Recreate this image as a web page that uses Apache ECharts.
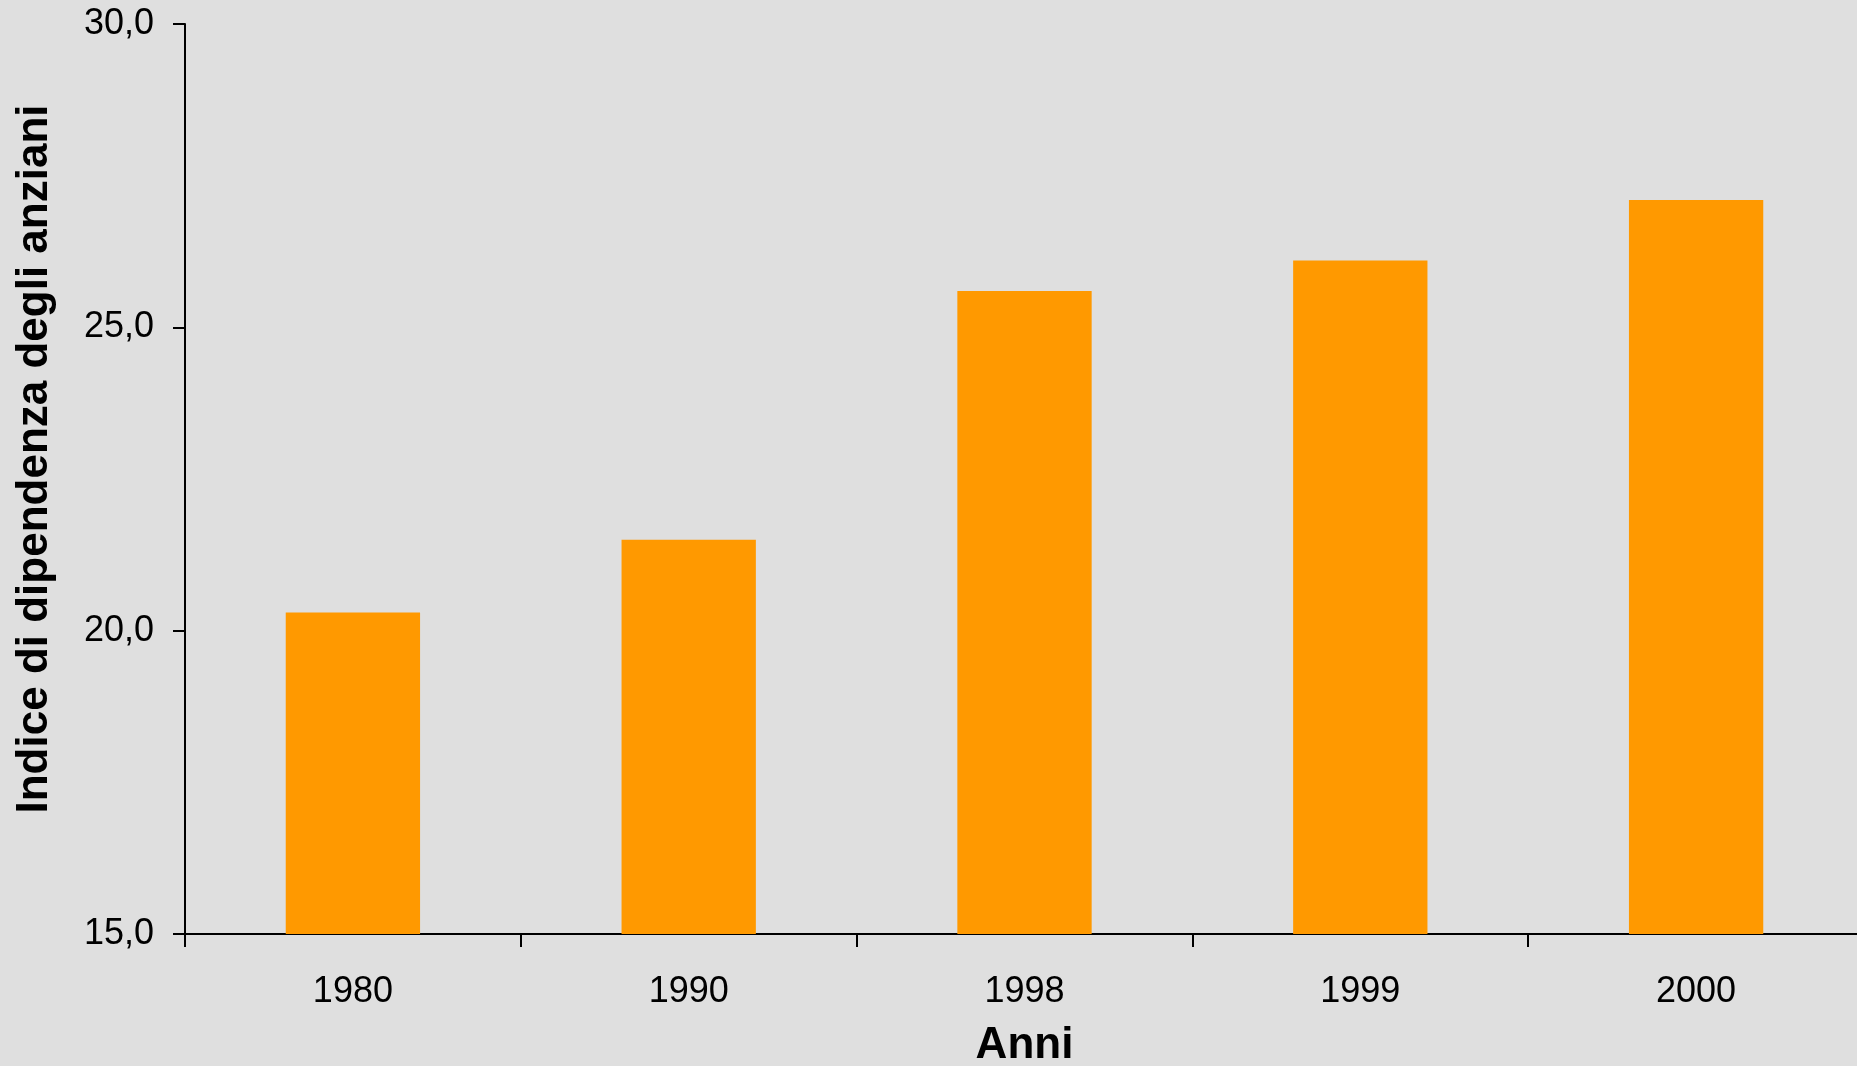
<!DOCTYPE html>
<html>
<head>
<meta charset="utf-8">
<title>Indice di dipendenza degli anziani</title>
<script src="https://cdn.jsdelivr.net/npm/echarts@6/dist/echarts.min.js"></script>
<style>
  html, body { margin: 0; padding: 0; background: #dfdfdf; }
  #chart { width: 1857px; height: 1066px; }
</style>
</head>
<body>
<div id="chart"></div>
<script>
// Old-age dependency index by year
const years = ['1980', '1990', '1998', '1999', '2000'];
const dependencyIndex = [20.3, 21.5, 25.6, 26.1, 27.1];
const yMin = 15;
const yMax = 30;
const yStep = 5;

const FONT = '"Liberation Sans", Arial, Helvetica, sans-serif';
const formatComma = v => v.toFixed(1).replace('.', ',');

const chart = echarts.init(document.getElementById('chart'), null, { renderer: 'canvas' });

chart.setOption({
  backgroundColor: '#dfdfdf',
  animation: false,
  // plot area runs slightly past the right edge of the canvas
  grid: {
    left: 185, top: 24, width: 1679, height: 910,
    containLabel: false,
    outerBoundsMode: 'none'
  },
  xAxis: {
    type: 'category',
    data: years,
    boundaryGap: true,
    name: 'Anni',
    nameLocation: 'middle',
    nameGap: 90,
    nameTextStyle: { fontFamily: FONT, fontSize: 44, fontWeight: 'bold', color: '#000' },
    axisLine: { show: true, lineStyle: { color: '#000', width: 2 } },
    axisTick: { show: true, alignWithLabel: false, length: 13, lineStyle: { color: '#000', width: 2 } },
    axisLabel: { fontFamily: FONT, fontSize: 36, color: '#000', margin: 40 },
    splitLine: { show: false }
  },
  yAxis: {
    type: 'value',
    min: yMin,
    max: yMax,
    interval: yStep,
    axisLine: { show: true, lineStyle: { color: '#000', width: 2 } },
    axisTick: { show: true, length: 12, lineStyle: { color: '#000', width: 2 } },
    axisLabel: { fontFamily: FONT, fontSize: 36, color: '#000', margin: 31, formatter: formatComma },
    splitLine: { show: false }
  },
  graphic: [{
    type: 'text',
    x: 35,
    y: 459,
    rotation: Math.PI / 2,
    style: {
      text: 'Indice di dipendenza degli anziani',
      fontFamily: FONT,
      fontSize: 44,
      fontWeight: 'bold',
      fill: '#000',
      align: 'center',
      verticalAlign: 'middle'
    }
  }],
  series: [{
    type: 'bar',
    data: dependencyIndex,
    barWidth: '40%',
    itemStyle: { color: '#ff9900' }
  }]
});
</script>
</body>
</html>
